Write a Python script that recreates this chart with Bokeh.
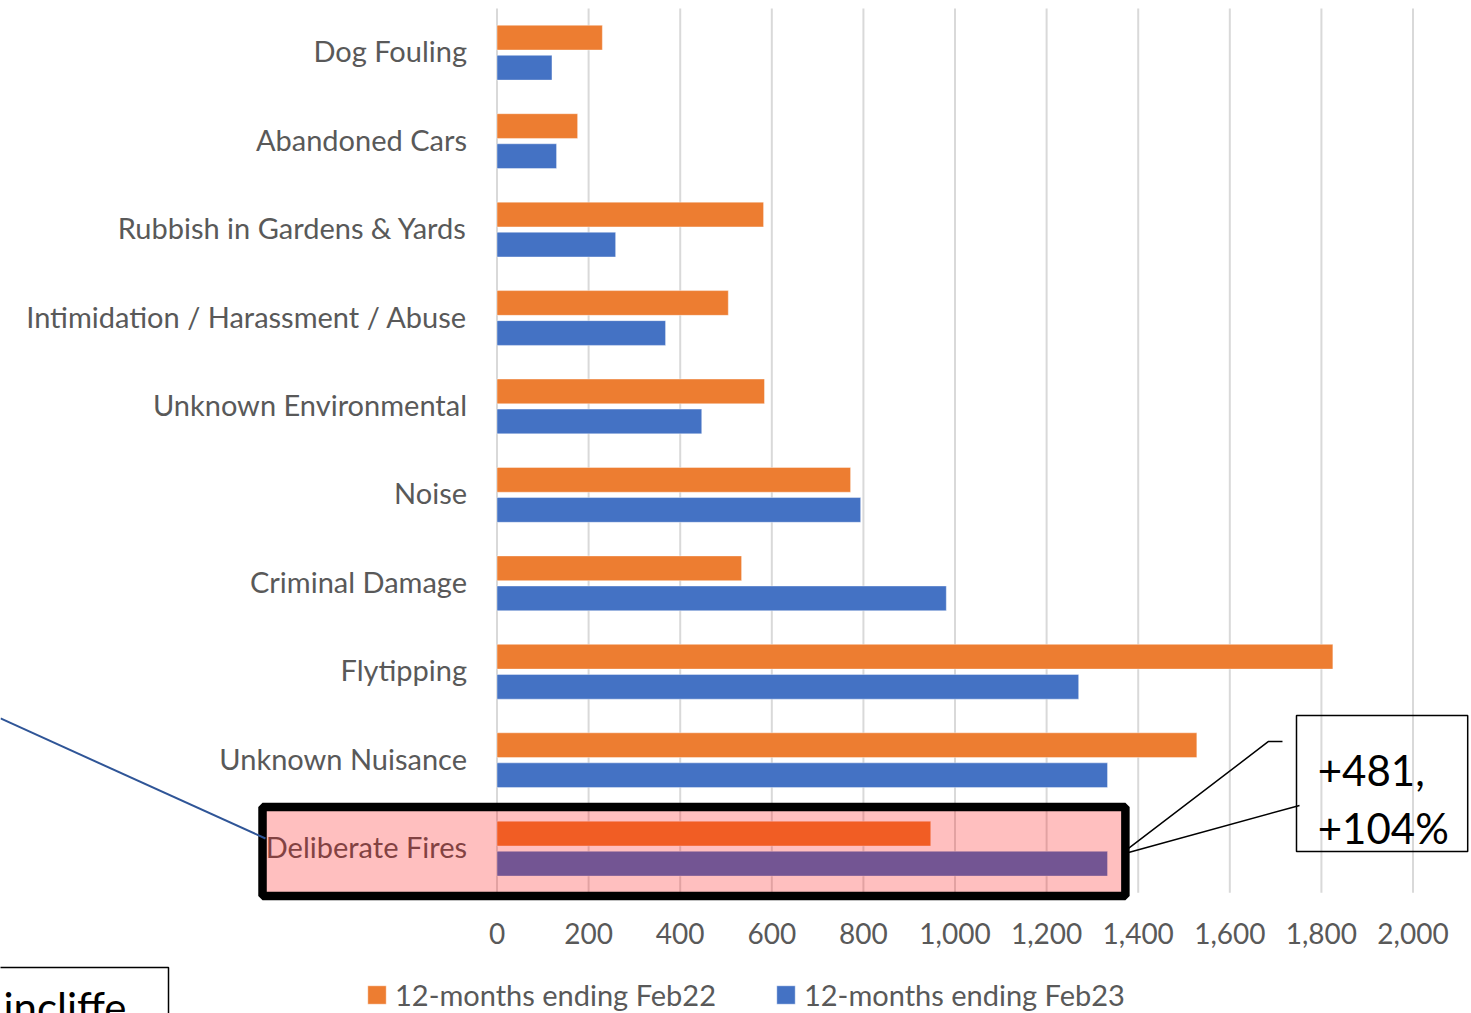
import numpy as np
from bokeh.plotting import figure
from bokeh.models import (ColumnDataSource, FixedTicker, NumeralTickFormatter,
                          Legend, LegendItem, Label)
from bokeh.transform import dodge
from bokeh.core.properties import value
from bokeh.embed import file_html
from bokeh.resources import INLINE

# ---------------- data ----------------
categories = [
    "Dog Fouling",
    "Abandoned Cars",
    "Rubbish in Gardens & Yards",
    "Intimidation / Harassment / Abuse",
    "Unknown Environmental",
    "Noise",
    "Criminal Damage",
    "Flytipping",
    "Unknown Nuisance",
    "Deliberate Fires",
]
feb22 = [230, 176, 582, 505, 584, 772, 534, 1825, 1528, 947]
feb23 = [120, 130, 259, 368, 447, 794, 981, 1270, 1333, 1333]
x_ticks = [0, 200, 400, 600, 800, 1000, 1200, 1400, 1600, 1800, 2000]
series_labels = ["12-months ending Feb22", "12-months ending Feb23"]
highlight_category = "Deliberate Fires"
callout_lines = ["+481,", "+104%"]
note_text = "incliffe"

# ---------------- styling ----------------
FONT = "Lato"
GREY = "#595959"
ORANGE = "#ED7D31"
BLUE = "#4472C4"

n = len(categories)
pos = (n - 1 - np.arange(n)).astype(float)   # first category on top
src = ColumnDataSource(dict(cat=categories, y=pos, a=feb22, b=feb23))
plot_top = n - 0.5
plot_bottom = -0.5

W, H = 1471, 1013
p = figure(width=W, height=H, output_backend="svg", toolbar_location=None,
           x_range=(-1084.1, 2127.7), y_range=(-1.864, 9.590),
           y_axis_location=None,
           min_border_left=0, min_border_right=0, min_border_top=0,
           min_border_bottom=0)
p.outline_line_color = None
p.background_fill_color = "white"
p.border_fill_color = "white"
p.xgrid.visible = False
p.ygrid.visible = False

# vertical gridlines of the plot area
p.segment(x0=x_ticks, x1=x_ticks, y0=plot_bottom, y1=plot_top,
          line_color="#D9D9D9", line_width=2)

ax = p.xaxis[0]
ax.fixed_location = plot_bottom
ax.ticker = FixedTicker(ticks=x_ticks)
ax.formatter = NumeralTickFormatter(format="0,0")
ax.axis_line_color = None
ax.major_tick_line_color = None
ax.minor_tick_line_color = None
ax.major_label_text_font = FONT
ax.major_label_text_font_size = "28px"
ax.major_label_text_color = GREY
ax.major_label_standoff = 24

r1 = p.hbar(y=dodge("y", 0.17, range=p.y_range), left=0, right="a", height=0.28,
            source=src, fill_color=ORANGE, line_color="white", line_alpha=0.4,
            line_width=1)
r2 = p.hbar(y=dodge("y", -0.17, range=p.y_range), left=0, right="b", height=0.28,
            source=src, fill_color=BLUE, line_color="white", line_alpha=0.4,
            line_width=1)

p.text(x=0, y="y", text="cat", source=src, x_offset=-30, y_offset=-2,
       text_align="right", text_baseline="middle",
       text_font=value(FONT), text_font_size="29px", text_color=GREY)

# highlight box around the chosen category
hy = pos[categories.index(highlight_category)]
p.quad(left=-512, right=1372, top=hy + 0.471, bottom=hy - 0.535,
       fill_color="red", fill_alpha=0.25, line_color="black", line_width=8.5)

# connector line from the left
p.line(x=[-1084, -505.5], y=[hy + 1.472, hy + 0.115],
       line_color="#2F5597", line_width=2)

# callout
p.multi_line(xs=[[1715, 1684.5, 1378.8], [1752.2, 1378.8]],
             ys=[[hy + 1.212, hy + 1.212, hy + 0.002], [hy + 0.488, hy - 0.043]],
             line_color="black", line_width=1.5)
p.quad(left=1745.6, right=2119.4, top=hy + 1.506, bottom=hy - 0.032,
       fill_alpha=0, line_color="black", line_width=1.5)
p.text(x=[1792, 1792], y=[hy + 0.884, hy + 0.228], text=callout_lines,
       text_align="left", text_baseline="alphabetic",
       text_font=value(FONT), text_font_size="42px", text_color="black")

# cut-off note box at the bottom left
note = Label(x=-1095, y=hy - 1.751, text=note_text, text_font=FONT,
             text_font_size="42px", text_color="black",
             text_baseline="alphabetic",
             border_line_color="black", border_line_width=1.5,
             background_fill_color="white",
             padding=dict(left=8, right=42, top=14, bottom=8))
p.add_layout(note)

legend = Legend(items=[LegendItem(label=series_labels[0], renderers=[r1]),
                       LegendItem(label=series_labels[1], renderers=[r2])],
                orientation="horizontal", location=(365, 1),
                glyph_width=23, glyph_height=23,
                label_text_font=FONT, label_text_font_size="29px",
                label_text_color=GREY, label_standoff=7, spacing=58,
                padding=0, margin=0, border_line_color=None,
                background_fill_alpha=0)
p.add_layout(legend)

open("out.html", "w").write(file_html(p, INLINE))
